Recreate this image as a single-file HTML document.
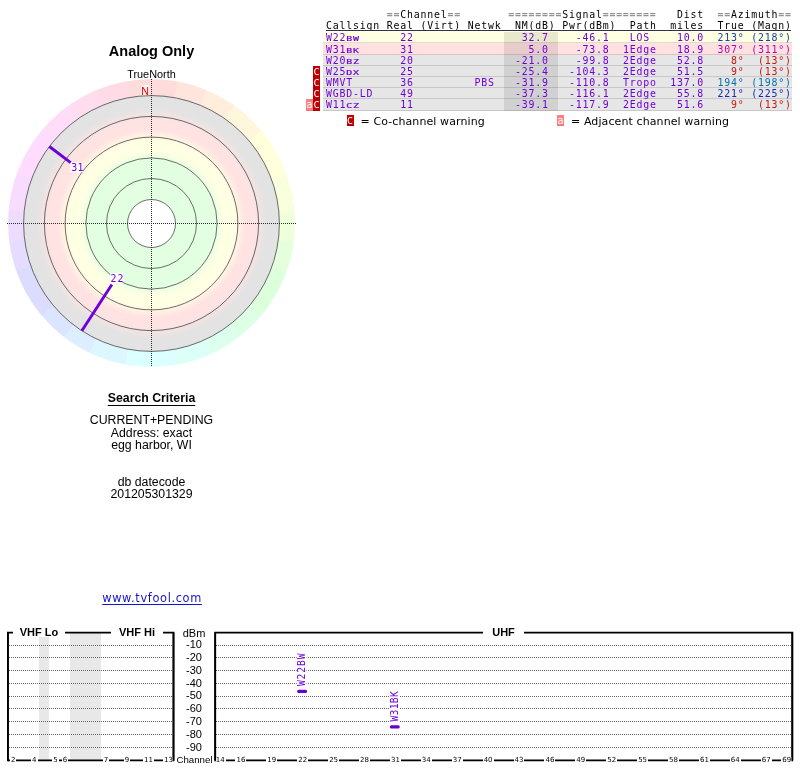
<!DOCTYPE html>
<html lang="en"><head><meta charset="utf-8"><title>TV Fool - Analog Only</title>
<style>
html,body{margin:0;padding:0;background:#fff}
body{width:800px;height:768px;position:relative;overflow:hidden;font-family:"Liberation Sans",sans-serif;color:#000}
#page{position:absolute;left:0;top:0;width:800px;height:768px;overflow:hidden;will-change:transform}
.abs{position:absolute}
.ctr{position:absolute;left:0;width:303px;text-align:center;white-space:nowrap}
.hl,.rt{position:absolute;left:0;width:800px;height:11px;font:9.9px/11px "DejaVu Sans Mono","Liberation Mono",monospace;letter-spacing:0.79px;white-space:pre}
.hl i{font-style:normal;font-weight:bold;color:#939393}
.rt{color:#7000d8}
.c{position:absolute;top:0}
.c small{font-size:inherit;display:inline-block;transform:scaleY(.72);transform-origin:0 8.9px;-webkit-text-stroke:0.3px}
.row{position:absolute;left:323px;width:469px;height:11px;box-shadow:inset 0 -1px 0 rgba(0,0,0,0.13)}
.w{position:absolute;width:7px;height:11px;font:9.9px/11px "DejaVu Sans Mono","Liberation Mono",monospace;color:#fff;text-align:center;box-shadow:inset 0 -1px 0 rgba(0,0,0,0.08)}
.w b{font-weight:normal;display:inline-block;transform:scaleY(.8);transform-origin:0 8.9px}
.wc{background:#c00000}
.wa{background:#ff8080}
.lg{position:absolute;font:11px/14px "DejaVu Sans","Liberation Sans",sans-serif;letter-spacing:0.1px;white-space:pre}
.ft{position:absolute;top:626px;height:11px;background:#fff;text-align:center;font:bold 11px/12px "Liberation Sans",sans-serif;white-space:pre}
.dbm{position:absolute;left:174px;width:40px;text-align:center;font:11px/13px "Liberation Sans",sans-serif}
.ch{position:absolute;top:756px;width:20px;margin-left:-10px;text-align:center;font:7px/9px "DejaVu Sans","Liberation Sans",sans-serif}
.ch span{display:inline-block;height:7px;line-height:7px;margin-top:1px;vertical-align:top;background:#fff;padding:0 1px}
</style></head>
<body>
<div id="page">
<div class="ctr" style="top:42px;font:bold 14.5px/18px 'Liberation Sans',sans-serif">Analog Only</div>
<div class="ctr" style="top:67px;font:10.9px/14px 'Liberation Sans',sans-serif">TrueNorth</div>
<div class="ctr" style="top:390.5px;font:bold 12.3px/15px 'Liberation Sans',sans-serif;text-decoration:underline;text-underline-offset:2.6px;text-decoration-thickness:1.2px">Search Criteria</div>
<div class="ctr" style="top:413.0px;font:12.3px/15px 'Liberation Sans',sans-serif">CURRENT+PENDING</div>
<div class="ctr" style="top:426.3px;font:12.3px/15px 'Liberation Sans',sans-serif">Address: exact</div>
<div class="ctr" style="top:437.6px;font:12.3px/15px 'Liberation Sans',sans-serif">egg harbor, WI</div>
<div class="ctr" style="top:474.6px;font:12.3px/15px 'Liberation Sans',sans-serif">db datecode</div>
<div class="ctr" style="top:487.3px;font:12.3px/15px 'Liberation Sans',sans-serif">201205301329</div>
<div class="ctr" style="top:590.4px;font:11.4px/16px 'DejaVu Sans','Liberation Sans',sans-serif;letter-spacing:0.64px;margin-left:0.6px;color:#1414c8;text-decoration:underline;text-underline-offset:2.3px;text-decoration-thickness:0.9px">www.tvfool.com</div>
<div class="abs" style="left:8.0px;top:79.0px;width:287.0px;height:288.0px;border-radius:50%;background:conic-gradient(from 0deg,rgb(255,220,220) 0deg 10.5deg,rgb(255,229,220) 10.5deg 22.5deg,rgb(255,238,220) 22.5deg 35deg,rgb(255,247,220) 35deg 50deg,rgb(255,255,220) 50deg 70.5deg,rgb(247,255,220) 70.5deg 85.5deg,rgb(238,255,220) 85.5deg 97.5deg,rgb(229,255,220) 97.5deg 110deg,rgb(220,255,220) 110deg 130.5deg,rgb(220,255,229) 130.5deg 142.5deg,rgb(220,255,238) 142.5deg 155deg,rgb(220,255,247) 155deg 170deg,rgb(220,255,255) 170deg 190.5deg,rgb(220,247,255) 190.5deg 205.5deg,rgb(220,238,255) 205.5deg 217.5deg,rgb(220,229,255) 217.5deg 230deg,rgb(220,220,255) 230deg 250.5deg,rgb(229,220,255) 250.5deg 262.5deg,rgb(238,220,255) 262.5deg 275deg,rgb(247,220,255) 275deg 290deg,rgb(255,220,255) 290deg 310.5deg,rgb(255,220,247) 310.5deg 325.5deg,rgb(255,220,238) 325.5deg 337.5deg,rgb(255,220,229) 337.5deg 350deg,rgb(255,220,220) 350deg 360deg)"></div>
<svg class="abs" style="left:0;top:0" width="310" height="380" viewBox="0 0 310 380">
<defs><radialGradient id="zg" gradientUnits="userSpaceOnUse" cx="151.5" cy="223.5" r="127.9">
<stop offset="0.0000" stop-color="#e2ffe2"/>
<stop offset="0.4926" stop-color="#e2ffe2"/>
<stop offset="0.5708" stop-color="#ffffe3"/>
<stop offset="0.6489" stop-color="#ffffe3"/>
<stop offset="0.7349" stop-color="#ffe3e3"/>
<stop offset="0.8053" stop-color="#ffe3e3"/>
<stop offset="0.8991" stop-color="#e3e3e3"/>
<stop offset="1.0000" stop-color="#e3e3e3"/>
</radialGradient></defs>
<circle cx="151.5" cy="223.5" r="127.9" fill="url(#zg)"/>
<circle cx="151.5" cy="223.5" r="24" fill="#fff"/>
<circle cx="151.5" cy="223.5" r="24" fill="none" stroke="#303030" stroke-width="0.7"/>
<circle cx="151.5" cy="223.5" r="45" fill="none" stroke="#303030" stroke-width="0.7"/>
<circle cx="151.5" cy="223.5" r="65.6" fill="none" stroke="#303030" stroke-width="0.7"/>
<circle cx="151.5" cy="223.5" r="86.4" fill="none" stroke="#303030" stroke-width="0.7"/>
<circle cx="151.5" cy="223.5" r="107.1" fill="none" stroke="#303030" stroke-width="0.7"/>
<circle cx="151.5" cy="223.5" r="127.9" fill="none" stroke="#303030" stroke-width="0.7"/>
<path d="M7 223.5H296" stroke="#2c2c2c" stroke-width="1" stroke-dasharray="1 1" shape-rendering="crispEdges"/>
<path d="M151.5 79V367" stroke="#2c2c2c" stroke-width="1" stroke-dasharray="1 1" shape-rendering="crispEdges"/>
<rect x="70.3" y="162" width="12.7" height="10.2" fill="#fff" fill-opacity="0.92"/>
<line x1="49.35" y1="146.53" x2="70.68" y2="162.60" stroke="#6e00dc" stroke-width="2.9"/>
<text x="71.2" y="171" font-family="'DejaVu Sans Mono','Liberation Mono',monospace" font-size="9.9" letter-spacing="0.3" fill="#7000d8">31</text>
<rect x="110.3" y="273" width="12.7" height="9.5" fill="#fff" fill-opacity="0.92"/>
<line x1="81.84" y1="330.77" x2="111.90" y2="284.47" stroke="#6e00dc" stroke-width="2.9"/>
<text x="110.5" y="281.7" font-family="'DejaVu Sans Mono','Liberation Mono',monospace" font-size="9.9" letter-spacing="1.1" fill="#7000d8">22</text>
<rect x="141" y="85" width="8.4" height="10.2" fill="#fff" fill-opacity="0.6"/>
<text x="145.1" y="94.7" text-anchor="middle" font-family="'Liberation Sans',sans-serif" font-size="10.67" fill="#f00000">N</text>
</svg>
<div class="hl" style="top:9px">
<span class="c " style="left:386.85px;"><i>==</i>Channel<i>==</i></span>
<span class="c " style="left:508.35px;"><i>========</i>Signal<i>========</i></span>
<span class="c " style="left:677.10px;">Dist</span>
<span class="c " style="left:717.60px;"><i>==</i>Azimuth<i>==</i></span>
</div>
<div class="hl" style="top:20px">
<span class="c " style="left:326.10px;">Callsign</span>
<span class="c " style="left:386.85px;">Real</span>
<span class="c " style="left:420.60px;">(Virt)</span>
<span class="c " style="left:467.85px;">Netwk</span>
<span class="c " style="left:515.10px;">NM(dB)</span>
<span class="c " style="left:562.35px;">Pwr(dBm)</span>
<span class="c " style="left:629.85px;">Path</span>
<span class="c " style="left:670.35px;">miles</span>
<span class="c " style="left:717.60px;">True</span>
<span class="c " style="left:751.35px;">(Magn)</span>
</div>
<div class="abs" style="left:326px;top:30px;width:465px;height:1px;background:#333"></div>
<div class="row" style="top:32px;height:11px;background:#ffffe1">
</div>
<div class="row" style="top:43px;height:12px;background:#ffe1e1">
</div>
<div class="row" style="top:55px;height:11px;background:#e6e6e6">
</div>
<div class="row" style="top:66px;height:11px;background:#e6e6e6">
</div>
<div class="row" style="top:77px;height:11px;background:#e6e6e6">
</div>
<div class="row" style="top:88px;height:11px;background:#e6e6e6">
</div>
<div class="row" style="top:99px;height:12px;background:#e6e6e6">
</div>
<div class="abs" style="left:504px;top:32px;width:54px;height:79px;background:rgba(0,0,0,0.09)"></div>
<div class="rt" style="top:32px">
<span class="c" style="left:326.10px">W22<small>BW</small></span>
<span class="c " style="left:400.35px;">22</span>
<span class="c " style="left:521.85px;">32.7</span>
<span class="c " style="left:575.85px;">-46.1</span>
<span class="c " style="left:629.85px;">LOS</span>
<span class="c " style="left:677.10px;">10.0</span>
<span class="c " style="left:717.60px;color:#1040b8;">213°</span>
<span class="c " style="left:751.35px;color:#1040b8;">(218°)</span>
</div>
<div class="rt" style="top:44px">
<span class="c" style="left:326.10px">W31<small>BK</small></span>
<span class="c " style="left:400.35px;">31</span>
<span class="c " style="left:528.60px;">5.0</span>
<span class="c " style="left:575.85px;">-73.8</span>
<span class="c " style="left:623.10px;">1Edge</span>
<span class="c " style="left:677.10px;">18.9</span>
<span class="c " style="left:717.60px;color:#c000a8;">307°</span>
<span class="c " style="left:751.35px;color:#c000a8;">(311°)</span>
</div>
<div class="rt" style="top:55px">
<span class="c" style="left:326.10px">W20<small>BZ</small></span>
<span class="c " style="left:400.35px;">20</span>
<span class="c " style="left:515.10px;">-21.0</span>
<span class="c " style="left:575.85px;">-99.8</span>
<span class="c " style="left:623.10px;">2Edge</span>
<span class="c " style="left:677.10px;">52.8</span>
<span class="c " style="left:731.10px;color:#c81810;">8°</span>
<span class="c " style="left:758.10px;color:#c81810;">(13°)</span>
</div>
<div class="rt" style="top:66px">
<span class="c" style="left:326.10px">W25<small>DX</small></span>
<span class="c " style="left:400.35px;">25</span>
<span class="c " style="left:515.10px;">-25.4</span>
<span class="c " style="left:569.10px;">-104.3</span>
<span class="c " style="left:623.10px;">2Edge</span>
<span class="c " style="left:677.10px;">51.5</span>
<span class="c " style="left:731.10px;color:#c81810;">9°</span>
<span class="c " style="left:758.10px;color:#c81810;">(13°)</span>
</div>
<div class="w wc" style="left:313px;top:66px;height:11px"><b>C</b></div>
<div class="rt" style="top:77px">
<span class="c" style="left:326.10px">WMVT</span>
<span class="c " style="left:400.35px;">36</span>
<span class="c " style="left:474.60px;">PBS</span>
<span class="c " style="left:515.10px;">-31.9</span>
<span class="c " style="left:569.10px;">-110.8</span>
<span class="c " style="left:623.10px;">Tropo</span>
<span class="c " style="left:670.35px;">137.0</span>
<span class="c " style="left:717.60px;color:#0070b0;">194°</span>
<span class="c " style="left:751.35px;color:#0070b0;">(198°)</span>
</div>
<div class="w wc" style="left:313px;top:77px;height:11px"><b>C</b></div>
<div class="rt" style="top:88px">
<span class="c" style="left:326.10px">WGBD-LD</span>
<span class="c " style="left:400.35px;">49</span>
<span class="c " style="left:515.10px;">-37.3</span>
<span class="c " style="left:569.10px;">-116.1</span>
<span class="c " style="left:623.10px;">2Edge</span>
<span class="c " style="left:677.10px;">55.8</span>
<span class="c " style="left:717.60px;color:#1028b8;">221°</span>
<span class="c " style="left:751.35px;color:#1028b8;">(225°)</span>
</div>
<div class="w wc" style="left:313px;top:88px;height:11px"><b>C</b></div>
<div class="rt" style="top:99px">
<span class="c" style="left:326.10px">W11<small>CZ</small></span>
<span class="c " style="left:400.35px;">11</span>
<span class="c " style="left:515.10px;">-39.1</span>
<span class="c " style="left:569.10px;">-117.9</span>
<span class="c " style="left:623.10px;">2Edge</span>
<span class="c " style="left:677.10px;">51.6</span>
<span class="c " style="left:731.10px;color:#c81810;">9°</span>
<span class="c " style="left:758.10px;color:#c81810;">(13°)</span>
</div>
<div class="w wc" style="left:313px;top:99px;height:12px"><b>C</b></div>
<div class="w wa" style="left:306px;top:99px;height:12px">a</div>
<div class="w wc" style="left:346.5px;top:115px"><b>C</b></div>
<div class="lg" style="left:360.5px;top:115px">= Co-channel warning</div>
<div class="w wa" style="left:557px;top:115px">a</div>
<div class="lg" style="left:571px;top:115px">= Adjacent channel warning</div>
<svg class="abs" style="left:0;top:620px" width="800" height="148" viewBox="0 620 800 148">
<rect x="39" y="632" width="10" height="128" fill="#e8e8e8"/>
<rect x="70" y="632" width="31" height="128" fill="#e8e8e8"/>
<path d="M9 645.5H173 M216 645.5H792" stroke="#626262" stroke-width="1" stroke-dasharray="1 1" shape-rendering="crispEdges"/>
<path d="M9 657.5H173 M216 657.5H792" stroke="#626262" stroke-width="1" stroke-dasharray="1 1" shape-rendering="crispEdges"/>
<path d="M9 670.5H173 M216 670.5H792" stroke="#626262" stroke-width="1" stroke-dasharray="1 1" shape-rendering="crispEdges"/>
<path d="M9 683.5H173 M216 683.5H792" stroke="#626262" stroke-width="1" stroke-dasharray="1 1" shape-rendering="crispEdges"/>
<path d="M9 696.5H173 M216 696.5H792" stroke="#626262" stroke-width="1" stroke-dasharray="1 1" shape-rendering="crispEdges"/>
<path d="M9 708.5H173 M216 708.5H792" stroke="#626262" stroke-width="1" stroke-dasharray="1 1" shape-rendering="crispEdges"/>
<path d="M9 721.5H173 M216 721.5H792" stroke="#626262" stroke-width="1" stroke-dasharray="1 1" shape-rendering="crispEdges"/>
<path d="M9 734.5H173 M216 734.5H792" stroke="#626262" stroke-width="1" stroke-dasharray="1 1" shape-rendering="crispEdges"/>
<path d="M9 747.5H173 M216 747.5H792" stroke="#626262" stroke-width="1" stroke-dasharray="1 1" shape-rendering="crispEdges"/>
<path d="M7.9 760.3V632.6H173.5V760.3" stroke="#000" stroke-width="1.75" fill="none"/>
<path d="M7.9 760.3H173.5" stroke="#000" stroke-width="1.75" fill="none"/>
<path d="M215.2 760.3V632.6H792.3V760.3" stroke="#000" stroke-width="1.75" fill="none"/>
<path d="M215.2 760.3H792.3" stroke="#000" stroke-width="1.75" fill="none"/>
<rect x="296.7" y="651.8" width="9.8" height="35" fill="#fff"/>
<rect x="297.15" y="689.81" width="9.9" height="3.3" rx="1.5" fill="#6600cc"/>
<text transform="translate(305.1,686.1) rotate(-90)" font-family="'DejaVu Sans Mono','Liberation Mono',monospace" font-size="9.7" letter-spacing="0.85" fill="#7000d8">W22BW</text>
<rect x="389.4" y="687.3" width="9.8" height="35" fill="#fff"/>
<rect x="389.85" y="725.26" width="9.9" height="3.3" rx="1.5" fill="#6600cc"/>
<text transform="translate(397.8,721.6) rotate(-90)" font-family="'DejaVu Sans Mono','Liberation Mono',monospace" font-size="9.7" letter-spacing="0.3" fill="#7000d8">W31BK</text>
</svg>
<div class="ft" style="left:13px;width:52px">VHF Lo</div>
<div class="ft" style="left:111px;width:52px">VHF Hi</div>
<div class="ft" style="left:483px;width:41px">UHF</div>
<div class="dbm" style="top:627px">dBm</div>
<div class="dbm" style="top:638.2px">-10</div>
<div class="dbm" style="top:651.0px">-20</div>
<div class="dbm" style="top:663.8px">-30</div>
<div class="dbm" style="top:676.6px">-40</div>
<div class="dbm" style="top:689.4px">-50</div>
<div class="dbm" style="top:702.2px">-60</div>
<div class="dbm" style="top:715.0px">-70</div>
<div class="dbm" style="top:727.8px">-80</div>
<div class="dbm" style="top:740.6px">-90</div>
<div class="dbm" style="top:753px;left:174px;width:41px;font-size:9.7px">Channel</div>
<div class="ch" style="left:13.2px"><span>2</span></div>
<div class="ch" style="left:34.3px"><span>4</span></div>
<div class="ch" style="left:55.4px"><span>5</span></div>
<div class="ch" style="left:65.0px"><span>6</span></div>
<div class="ch" style="left:106.0px"><span>7</span></div>
<div class="ch" style="left:127.0px"><span>9</span></div>
<div class="ch" style="left:148.5px"><span>11</span></div>
<div class="ch" style="left:168.5px"><span>13</span></div>
<div class="ch" style="left:220.3px"><span>14</span></div>
<div class="ch" style="left:240.9px"><span>16</span></div>
<div class="ch" style="left:271.8px"><span>19</span></div>
<div class="ch" style="left:302.7px"><span>22</span></div>
<div class="ch" style="left:333.6px"><span>25</span></div>
<div class="ch" style="left:364.5px"><span>28</span></div>
<div class="ch" style="left:395.4px"><span>31</span></div>
<div class="ch" style="left:426.3px"><span>34</span></div>
<div class="ch" style="left:457.2px"><span>37</span></div>
<div class="ch" style="left:488.1px"><span>40</span></div>
<div class="ch" style="left:519.0px"><span>43</span></div>
<div class="ch" style="left:549.9px"><span>46</span></div>
<div class="ch" style="left:580.8px"><span>49</span></div>
<div class="ch" style="left:611.7px"><span>52</span></div>
<div class="ch" style="left:642.6px"><span>55</span></div>
<div class="ch" style="left:673.5px"><span>58</span></div>
<div class="ch" style="left:704.4px"><span>61</span></div>
<div class="ch" style="left:735.3px"><span>64</span></div>
<div class="ch" style="left:766.2px"><span>67</span></div>
<div class="ch" style="left:786.8px"><span>69</span></div>
<svg class="abs" style="left:0;top:620px" width="800" height="148" viewBox="0 620 800 148"><path d="M7.9 761.25V632.6M173.5 761.25V632.6M215.2 761.25V632.6M792.3 761.25V632.6" stroke="#000" stroke-width="1.75" fill="none"/></svg>
</div>
</body></html>
